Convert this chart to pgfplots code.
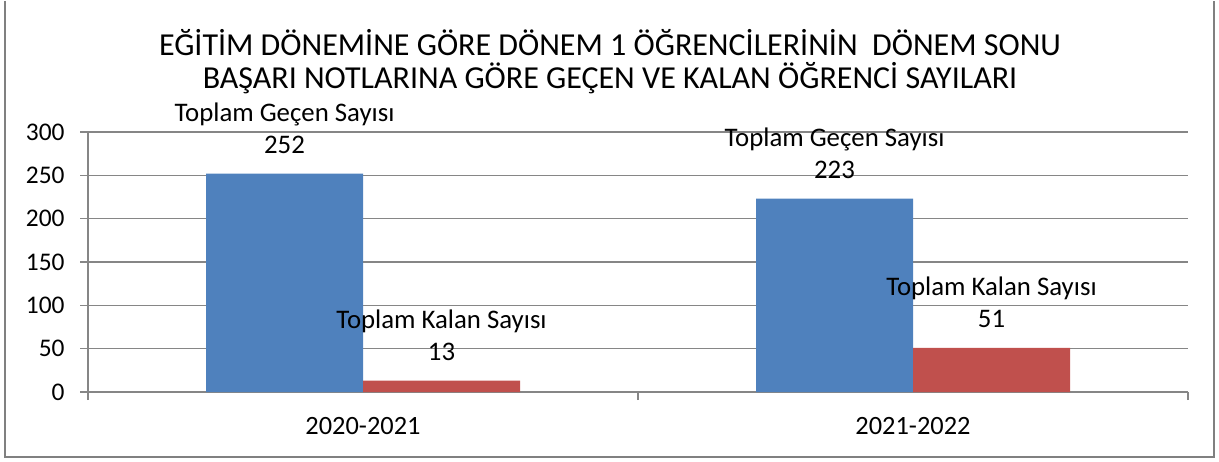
\documentclass[border=0pt]{standalone}
\usepackage{fontspec}
\setmainfont{Carlito}
\usepackage{pgfplots}
\pgfplotsset{compat=1.18}

\definecolor{barblue}{RGB}{79,129,189}
\definecolor{barred}{RGB}{192,80,77}
\definecolor{gridgray}{RGB}{134,134,134}
\definecolor{framegray}{RGB}{128,128,128}

\begin{document}
\begin{tikzpicture}
% picture size: 1px = 0.5pt
\path (0,0) rectangle (609.5pt,229.5pt);
\draw[framegray, line width=1pt] (2.5pt,230pt) -- (2.5pt,2pt) -- (607pt,2pt) -- (607pt,230pt);

\node[align=center, font=\fontsize{16}{16.5}\selectfont] at (305pt,199.5pt)
  {EĞİTİM DÖNEMİNE GÖRE DÖNEM 1 ÖĞRENCİLERİNİN\ \ DÖNEM SONU\\
   BAŞARI NOTLARINA GÖRE GEÇEN VE KALAN ÖĞRENCİ SAYILARI};

\begin{axis}[
    at={(44pt,34.5pt)}, anchor=south west,
    scale only axis,
    width=550pt, height=130pt,
    ybar=0pt,
    bar width=78.5pt,
    xmin=-0.5, xmax=1.5,
    ymin=0, ymax=300,
    ytick={0,50,...,300},
    xtick={-0.5,0.5,1.5},
    xticklabels={},
    extra x ticks={0,1},
    extra x tick labels={2020-2021,2021-2022},
    extra x tick style={major tick length=0pt, grid=none},
    axis x line*=bottom,
    axis y line*=left,
    axis line style={gridgray, line width=0.8pt, -},
    tick style={gridgray, line width=0.8pt},
    tick align=outside,
    major tick length=4pt,
    ymajorgrids,
    grid style={gridgray, line width=0.8pt},
    /pgf/number format/assume math mode=true,
    xticklabel style={font=\fontsize{13.2}{15}\selectfont, inner sep=0pt, anchor=north, yshift=-12.5pt},
    yticklabel style={font=\fontsize{12.7}{15}\selectfont, inner sep=0pt, anchor=east, xshift=-7.5pt},
    every node near coord/.append style={align=center, inner sep=0pt, anchor=south,
        yshift=9.7pt, font=\fontsize{13.4}{16}\selectfont, text=black},
    clip=false,
]
\addplot[fill=barblue, draw=none,
    nodes near coords={Toplam Geçen Sayısı\\\pgfmathprintnumber{\pgfplotspointmeta}}]
    coordinates {(0,252) (1,223)};
\addplot[fill=barred, draw=none,
    nodes near coords={Toplam Kalan Sayısı\\\pgfmathprintnumber{\pgfplotspointmeta}}]
    coordinates {(0,13) (1,51)};
\end{axis}
\end{tikzpicture}
\end{document}
